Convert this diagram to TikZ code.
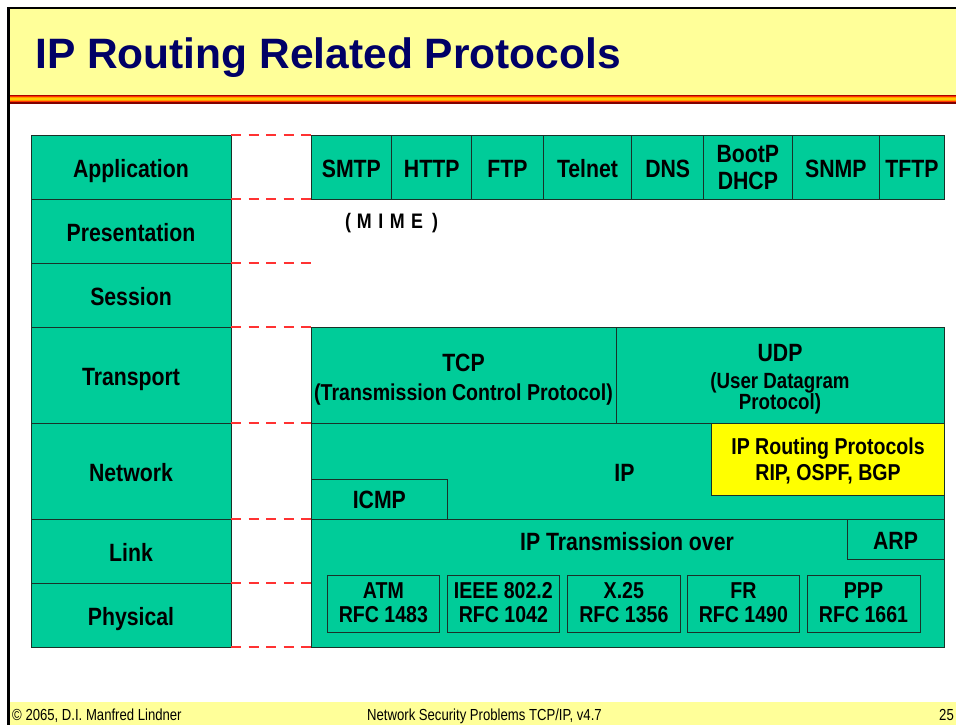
\documentclass[tikz,border=0pt]{standalone}
\usepackage{fontspec}
\setmainfont[FakeStretch=0.85]{Liberation Sans}
\newfontfamily\titlefont{Liberation Sans}
\newfontfamily\footfont[FakeStretch=0.82]{Liberation Sans}
\definecolor{osigreen}{RGB}{0,204,153}
\definecolor{edgecol}{RGB}{25,50,40}
\definecolor{dashred}{RGB}{255,50,50}
\definecolor{titleblue}{RGB}{0,0,102}
\definecolor{titleyellow}{RGB}{255,255,153}
\definecolor{hlyellow}{RGB}{255,255,0}
\definecolor{strA}{RGB}{170,0,0}
\definecolor{strB}{RGB}{255,51,0}
\definecolor{strC}{RGB}{255,153,0}
\definecolor{strD}{RGB}{255,204,0}
\definecolor{strE}{RGB}{128,0,0}
\newcommand\bx[6]{\node[#6, anchor=north west, minimum width={#4pt-#2pt}, minimum height={#5pt-#3pt}] (#1) at (#2,#3) {};}
\begin{document}
\begin{tikzpicture}[x=1pt,y=-1pt,
  cell/.style={draw=edgecol, line width=0.9pt, fill=osigreen, inner sep=0pt, outer sep=0pt},
  hl/.style={cell, fill=hlyellow},
  lab/.style={inner sep=0pt, outer sep=0pt, anchor=base, text=black, font=\bfseries\fontsize{25pt}{30pt}\selectfont},
  labs/.style={lab, font=\bfseries\fontsize{23pt}{28pt}\selectfont},
  labxs/.style={lab, font=\bfseries\fontsize{22pt}{26pt}\selectfont},
  dashline/.style={draw=dashred, line width=1.4pt, dash pattern=on 10pt off 7.5pt},
  foot/.style={inner sep=0pt, anchor=base west, text=black, font=\footfont\fontsize{16pt}{19pt}\selectfont}]
\useasboundingbox (0,0) rectangle (956,725);
\fill[white] (0,0) rectangle (956,725);
% title bar
\fill[titleyellow] (9,9) rectangle (956,95);
\fill[strA] (9,95) rectangle (956,96);
\fill[strB] (9,96) rectangle (956,97.2);
\fill[strC] (9,97.2) rectangle (956,98.4);
\fill[strD] (9,98.4) rectangle (956,100.2);
\fill[strC] (9,100.2) rectangle (956,101.3);
\fill[strB] (9,101.3) rectangle (956,102.3);
\fill[strE] (9,102.3) rectangle (956,104);
% footer band
\fill[titleyellow] (9,702) rectangle (956,725);
\draw[black, line width=2.5pt] (8.5,725) -- (8.5,8.2) -- (956,8.2);
\node[inner sep=0pt, anchor=base west, text=titleblue, font=\titlefont\bfseries\fontsize{42.5pt}{50pt}\selectfont] (title) at (35,68.7) {IP Routing Related Protocols};

% left layer column
\bx{lApp}{31}{135}{231}{199}{cell}
\bx{lPres}{31}{199}{231}{263}{cell}
\bx{lSess}{31}{263}{231}{327}{cell}
\bx{lTrans}{31}{327}{231}{423}{cell}
\bx{lNet}{31}{423}{231}{519}{cell}
\bx{lLink}{31}{519}{231}{583}{cell}
\bx{lPhys}{31}{583}{231}{647}{cell}
\node[lab] (tApp) at ([yshift=-10pt]lApp.center) {Application};
\node[lab] (tPres) at ([yshift=-10pt]lPres.center) {Presentation};
\node[lab] (tSess) at ([yshift=-10pt]lSess.center) {Session};
\node[lab] (tTrans) at ([yshift=-10pt]lTrans.center) {Transport};
\node[lab] (tNet) at ([yshift=-10pt]lNet.center) {Network};
\node[lab] (tLink) at ([yshift=-10pt]lLink.center) {Link};
\node[lab] (tPhys) at ([yshift=-10pt]lPhys.center) {Physical};

% application protocols
\bx{smtp}{311}{135}{391.7}{199}{cell}
\bx{http}{391.7}{135}{471.7}{199}{cell}
\bx{ftp}{471.7}{135}{543.3}{199}{cell}
\bx{telnet}{543.3}{135}{631.7}{199}{cell}
\bx{dns}{631.7}{135}{703.7}{199}{cell}
\bx{bootp}{703.7}{135}{792}{199}{cell}
\bx{snmp}{792}{135}{879.7}{199}{cell}
\bx{tftp}{879.7}{135}{944}{199}{cell}
\node[lab] (tSmtp) at ([yshift=-10pt]smtp.center) {SMTP};
\node[lab] (tHttp) at ([yshift=-10pt]http.center) {HTTP};
\node[lab] (tFtp) at ([yshift=-10pt]ftp.center) {FTP};
\node[lab] (tTelnet) at ([yshift=-10pt]telnet.center) {Telnet};
\node[lab] (tDns) at ([yshift=-10pt]dns.center) {DNS};
\node[lab] (tBoot) at ([yshift=5pt]bootp.center) {BootP};
\node[lab] (tDhcp) at ([yshift=-22pt]bootp.center) {DHCP};
\node[lab] (tSnmp) at ([yshift=-10pt]snmp.center) {SNMP};
\node[lab] (tTftp) at ([yshift=-10pt]tftp.center) {TFTP};
\node[lab, anchor=base west, font=\bfseries\fontsize{21pt}{24pt}\selectfont] (mime) at (345,228.3) {(\hspace{6pt}M\hspace{6.5pt}I\hspace{6.5pt}M\hspace{6.5pt}E\hspace{9pt})};

% transport
\bx{tcp}{311}{327}{616}{423}{cell}
\bx{udp}{616}{327}{944}{423}{cell}
\node[lab] (tTcp) at (463.5,371) {TCP};
\node[labs] (tTcp2) at (463.5,400) {(Transmission Control Protocol)};
\node[lab] (tUdp) at (780,361) {UDP};
\node[labxs] (tUdp2) at (780,388) {(User Datagram};
\node[labxs] (tUdp3) at (780,409) {Protocol)};

% network
\bx{ip}{311}{423}{944}{519}{cell}
\bx{icmp}{311}{479}{447.7}{519}{cell}
\bx{rout}{711.7}{423}{944}{495}{hl}
\node[lab] (tIp) at (624.5,481) {IP};
\node[lab] (tIcmp) at ([yshift=-9pt]icmp.center) {ICMP};
\node[labs] (tRout) at (828,454) {IP Routing Protocols};
\node[labs] (tRout2) at (828,480) {RIP, OSPF, BGP};

% link / physical
\bx{lnk}{311}{519}{944}{647}{cell}
\bx{arp}{847}{519}{944}{559}{cell}
\bx{atm}{327}{575}{439.7}{632}{cell}
\bx{ieee}{447}{575}{559.7}{632}{cell}
\bx{xtf}{567.7}{575}{680}{632}{cell}
\bx{fr}{687}{575}{799.7}{632}{cell}
\bx{ppp}{807}{575}{920}{632}{cell}
\node[lab] (tTrans2) at (627,550) {IP Transmission over};
\node[lab] (tArp) at ([yshift=-10pt]arp.center) {ARP};
\node[labs] (tAtm) at ([yshift=5.5pt]atm.center) {ATM};
\node[labs] (tAtm2) at ([yshift=-18.5pt]atm.center) {RFC 1483};
\node[labs] (tIeee) at ([yshift=5.5pt]ieee.center) {IEEE 802.2};
\node[labs] (tIeee2) at ([yshift=-18.5pt]ieee.center) {RFC 1042};
\node[labs] (tX) at ([yshift=5.5pt]xtf.center) {X.25};
\node[labs] (tX2) at ([yshift=-18.5pt]xtf.center) {RFC 1356};
\node[labs] (tFr) at ([yshift=5.5pt]fr.center) {FR};
\node[labs] (tFr2) at ([yshift=-18.5pt]fr.center) {RFC 1490};
\node[labs] (tPpp) at ([yshift=5.5pt]ppp.center) {PPP};
\node[labs] (tPpp2) at ([yshift=-18.5pt]ppp.center) {RFC 1661};

% dashed layer boundaries
\coordinate (sessR) at (311,263);
\coordinate (physR) at (311,583);
\draw[dashline] (lApp.north east) -- (smtp.north west);
\draw[dashline] (lPres.north east) -- (smtp.south west);
\draw[dashline] (lSess.north east) -- (sessR);
\draw[dashline] (lTrans.north east) -- (tcp.north west);
\draw[dashline] (lNet.north east) -- (ip.north west);
\draw[dashline] (lLink.north east) -- (lnk.north west);
\draw[dashline] (lPhys.north east) -- (physR);
\draw[dashline] (lPhys.south east) -- (lnk.south west);

% footer
\node[foot] (f1) at (12,720) {© 2065, D.I. Manfred Lindner};
\node[foot] (f2) at (367,720) {Network Security Problems TCP/IP, v4.7};
\node[foot] (f3) at (939,720) {25};
\end{tikzpicture}
\end{document}
